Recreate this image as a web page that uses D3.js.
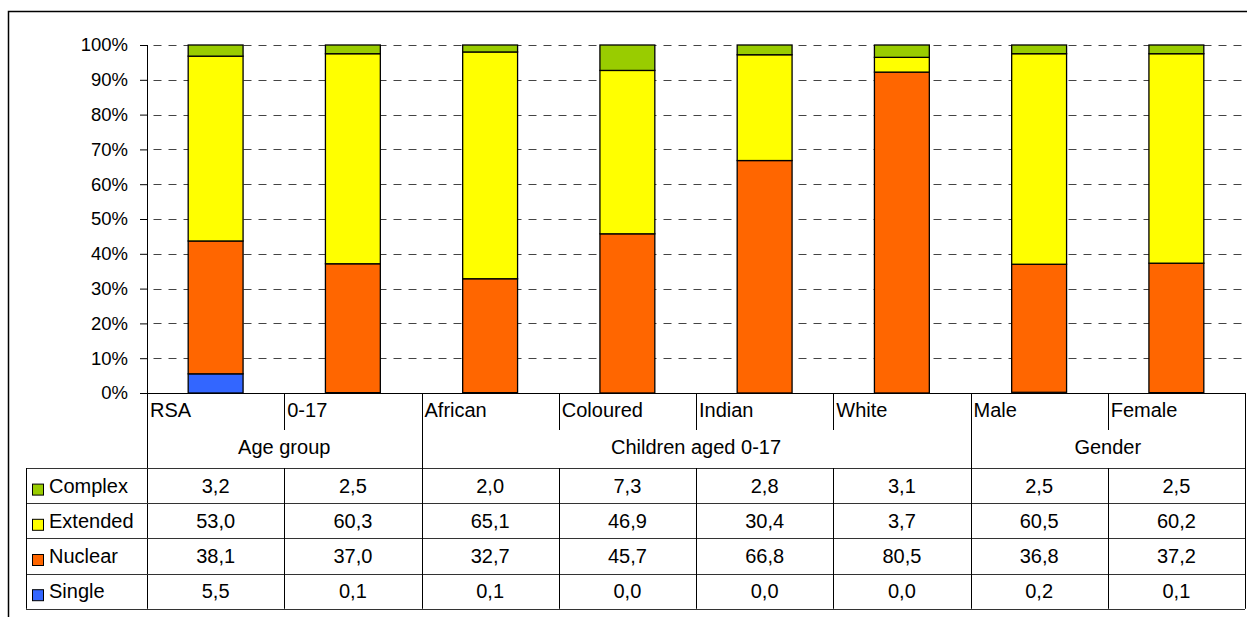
<!DOCTYPE html>
<html lang="en">
<head>
    <meta charset="UTF-8">
    <title>Household type by group</title>
    <style>
        body, html {
            margin: 0;
            padding: 0;
            background: #fff;
        }
        svg text {
            font-family: Arial, "Liberation Sans", sans-serif;
            fill: #000;
        }
    </style>
    <script src="https://d3js.org/d3.v7.min.js"></script>
</head>
<body>
    <div id="chart"></div>
    <script>
        // values (percent)
        const categories = ["RSA", "0-17", "African", "Coloured", "Indian", "White", "Male", "Female"];
        const complexVals = [3.2, 2.5, 2.0, 7.3, 2.8, 3.1, 2.5, 2.5];
        const extendedVals = [53.0, 60.3, 65.1, 46.9, 30.4, 3.7, 60.5, 60.2];
        const nuclearVals = [38.1, 37.0, 32.7, 45.7, 66.8, 80.5, 36.8, 37.2];
        const singleVals = [5.5, 0.1, 0.1, 0.0, 0.0, 0.0, 0.2, 0.1];

        const groupNames = ["Age group", "Children aged 0-17", "Gender"];
        const groupSizes = [2, 4, 2];

        const seriesNames = ["Complex", "Extended", "Nuclear", "Single"];   // table order
        const seriesColors = ["#99cc00", "#ffff00", "#ff6600", "#3366ff"];
        const tickValues = [0, 0.1, 0.2, 0.3, 0.4, 0.5, 0.6, 0.7, 0.8, 0.9, 1];

        const width = 1247, height = 617;
        const plot = { left: 147, right: 1245, top: 45, bottom: 393 };
        const tableLeft = 26;
        const catRowBottom = 430;
        const groupRowBottom = 468;
        const rowH = 35.2;
        const textSize = 20;

        const valuesBySeries = {
            Complex: complexVals,
            Extended: extendedVals,
            Nuclear: nuclearVals,
            Single: singleVals
        };
        const color = d3.scaleOrdinal().domain(seriesNames).range(seriesColors);

        const rows = categories.map((c, i) => {
            const r = { cat: c };
            seriesNames.forEach(s => r[s] = valuesBySeries[s][i]);
            return r;
        });

        const svg = d3.select("#chart").append("svg")
            .attr("width", width)
            .attr("height", height)
            .style("display", "block");

        // outer chart frame (runs off the picture on the right and bottom)
        svg.append("rect")
            .attr("x", 8.5).attr("y", 11.5)
            .attr("width", 1260).attr("height", 640)
            .attr("fill", "none")
            .attr("stroke", "#000")
            .attr("stroke-width", 1.5);

        const x = d3.scaleBand().domain(categories).range([plot.left, plot.right]).padding(0);
        const y = d3.scaleLinear().domain([0, 1]).range([plot.bottom, plot.top]);
        const barW = x.bandwidth() * 0.4;

        // dashed gridlines
        svg.append("g")
            .selectAll("line")
            .data(tickValues.filter(d => d > 0))
            .join("line")
            .attr("x1", plot.left).attr("x2", plot.right)
            .attr("y1", d => Math.round(y(d)) + 0.5)
            .attr("y2", d => Math.round(y(d)) + 0.5)
            .attr("stroke", "#444")
            .attr("stroke-width", 1)
            .attr("stroke-dasharray", "8,7")
            .attr("stroke-dashoffset", 8.5);

        // stacked 100% bars
        const stack = d3.stack()
            .keys(["Single", "Nuclear", "Extended", "Complex"])
            .offset(d3.stackOffsetExpand);

        svg.append("g")
            .selectAll("g")
            .data(stack(rows))
            .join("g")
            .attr("fill", d => color(d.key))
            .selectAll("rect")
            .data(d => d.filter(p => y(p[0]) - y(p[1]) >= 1))   // slivers under a pixel don't show
            .join("rect")
            .attr("x", d => x(d.data.cat) + (x.bandwidth() - barW) / 2)
            .attr("width", barW)
            .attr("y", d => y(d[1]))
            .attr("height", d => y(d[0]) - y(d[1]))
            .attr("stroke", "#000")
            .attr("stroke-width", 1.3);

        // y axis
        const yAxis = svg.append("g")
            .attr("transform", `translate(${plot.left},0)`)
            .call(d3.axisLeft(y)
                .tickValues(tickValues)
                .tickFormat(d3.format(".0%"))
                .tickSize(7)
                .tickPadding(12));
        yAxis.select(".domain").remove();
        yAxis.selectAll(".tick line").attr("stroke", "#000");
        yAxis.selectAll(".tick text")
            .attr("font-size", 18.5)
            .attr("font-family", "Arial, 'Liberation Sans', sans-serif")
            .attr("fill", "#000");

        const lines = svg.append("g").attr("stroke", "#000").attr("stroke-width", 1);
        // vertical axis line, continuing down through the table
        lines.append("line")
            .attr("x1", plot.left + 0.5).attr("x2", plot.left + 0.5)
            .attr("y1", plot.top).attr("y2", groupRowBottom + rowH * 4);
        // baseline
        lines.append("line")
            .attr("x1", plot.left).attr("x2", plot.right)
            .attr("y1", plot.bottom + 0.5).attr("y2", plot.bottom + 0.5);

        // category label row dividers
        categories.forEach((c, i) => {
            if (i === 0) return;
            lines.append("line")
                .attr("x1", Math.round(x(c)) + 0.5).attr("x2", Math.round(x(c)) + 0.5)
                .attr("y1", plot.bottom).attr("y2", catRowBottom);
        });

        // group boundaries (full height through the labels)
        let start = 0;
        const groupBounds = [];
        groupNames.forEach((g, gi) => {
            const x0 = x(categories[start]);
            const end = start + groupSizes[gi] - 1;
            const x1 = x(categories[end]) + x.bandwidth();
            groupBounds.push({ name: g, x0, x1 });
            start = end + 1;
        });
        groupBounds.forEach(b => {
            lines.append("line")
                .attr("x1", Math.round(b.x1) + 0.5).attr("x2", Math.round(b.x1) + 0.5)
                .attr("y1", plot.bottom).attr("y2", groupRowBottom);
        });

        // category labels
        svg.append("g")
            .selectAll("text")
            .data(categories)
            .join("text")
            .attr("x", d => x(d) + 3)
            .attr("y", 417)
            .attr("font-size", textSize)
            .text(d => d);

        // group labels
        svg.append("g")
            .selectAll("text")
            .data(groupBounds)
            .join("text")
            .attr("x", d => (d.x0 + d.x1) / 2)
            .attr("y", 454)
            .attr("text-anchor", "middle")
            .attr("font-size", textSize)
            .text(d => d.name);

        // data table
        const fmt = d3.formatLocale({ decimal: ",", thousands: ".", grouping: [3], currency: ["", ""] }).format(".1f");
        const tableBottom = groupRowBottom + rowH * 4;

        for (let r = 0; r <= 4; r++) {
            const yy = Math.round(groupRowBottom + r * rowH) + 0.5;
            lines.append("line")
                .attr("x1", tableLeft).attr("x2", plot.right)
                .attr("y1", yy).attr("y2", yy)
                .attr("stroke", "#333");
        }
        lines.append("line")
            .attr("x1", tableLeft + 0.5).attr("x2", tableLeft + 0.5)
            .attr("y1", groupRowBottom).attr("y2", tableBottom);
        categories.forEach(c => {
            const xx = Math.round(x(c) + x.bandwidth()) + 0.5;
            lines.append("line")
                .attr("x1", xx).attr("x2", xx)
                .attr("y1", groupRowBottom).attr("y2", tableBottom);
        });

        const tableRows = svg.append("g")
            .selectAll("g")
            .data(seriesNames)
            .join("g")
            .attr("transform", (d, i) => `translate(0,${groupRowBottom + i * rowH})`);

        tableRows.append("rect")
            .attr("x", 32.5).attr("y", rowH / 2 - 1.5)
            .attr("width", 11).attr("height", 11)
            .attr("fill", d => color(d))
            .attr("stroke", "#000")
            .attr("stroke-width", 1);

        tableRows.append("text")
            .attr("x", 49)
            .attr("y", rowH / 2 + 7)
            .attr("font-size", textSize)
            .text(d => d);

        tableRows.selectAll("text.val")
            .data(s => valuesBySeries[s].map((v, i) => ({ v, cat: categories[i] })))
            .join("text")
            .attr("class", "val")
            .attr("x", d => x(d.cat) + x.bandwidth() / 2)
            .attr("y", rowH / 2 + 7)
            .attr("text-anchor", "middle")
            .attr("font-size", textSize)
            .text(d => fmt(d.v));
    </script>
</body>
</html>
